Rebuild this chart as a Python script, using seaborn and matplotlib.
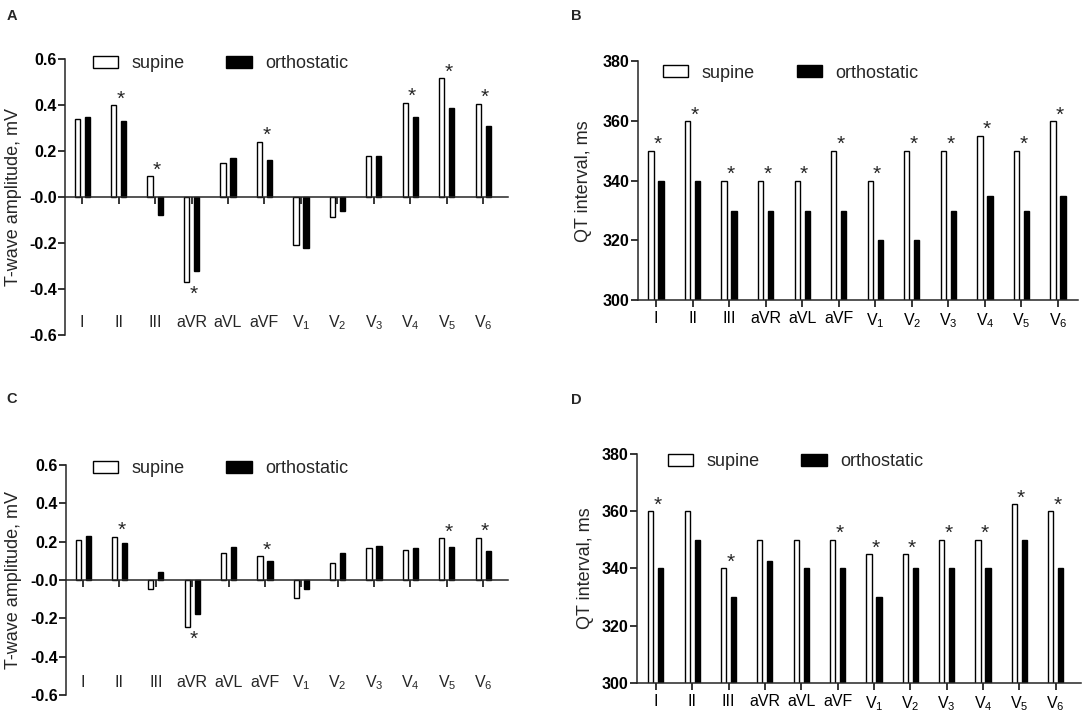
import pandas as pd
import seaborn as sns
import matplotlib.pyplot as plt

sns.set_style('ticks')
plt.rcParams['font.family'] = ['Liberation Sans', 'DejaVu Sans']
plt.rcParams['axes.linewidth'] = 1.1

# leads on the x axis
LEADS = ['I', 'II', 'III', 'aVR', 'aVL', 'aVF', 'V1', 'V2', 'V3', 'V4', 'V5', 'V6']
LEAD_LABELS = ['I', 'II', 'III', 'aVR', 'aVL', 'aVF',
               r'$\mathregular{V_1}$', r'$\mathregular{V_2}$', r'$\mathregular{V_3}$',
               r'$\mathregular{V_4}$', r'$\mathregular{V_5}$', r'$\mathregular{V_6}$']
CONDITIONS = ['supine', 'orthostatic']

# panel A - T-wave amplitude, mV
A_SUPINE = [0.34, 0.40, 0.09, -0.37, 0.15, 0.24, -0.21, -0.088, 0.178, 0.41, 0.516, 0.407]
A_ORTHO = [0.35, 0.33, -0.078, -0.32, 0.17, 0.16, -0.222, -0.06, 0.181, 0.35, 0.388, 0.31]
A_STARS = ['II', 'III', 'aVR', 'aVF', 'V4', 'V5', 'V6']

# panel B - QT interval, ms
B_SUPINE = [350, 360, 340, 340, 340, 350, 340, 350, 350, 355, 350, 360]
B_ORTHO = [340, 340, 330, 330, 330, 330, 320, 320, 330, 335, 330, 335]
B_STARS = ['I', 'II', 'III', 'aVR', 'aVL', 'aVF', 'V1', 'V2', 'V3', 'V4', 'V5', 'V6']

# panel C - T-wave amplitude, mV
C_SUPINE = [0.209, 0.226, -0.049, -0.244, 0.139, 0.125, -0.092, 0.09, 0.169, 0.155, 0.218, 0.221]
C_ORTHO = [0.231, 0.195, 0.042, -0.178, 0.171, 0.101, -0.049, 0.139, 0.179, 0.166, 0.171, 0.15]
C_STARS = ['II', 'aVR', 'aVF', 'V5', 'V6']

# panel D - QT interval, ms
D_SUPINE = [360, 360, 340, 350, 350, 350, 345, 345, 350, 350, 362.5, 360]
D_ORTHO = [340, 350, 330, 342.5, 340, 340, 330, 340, 340, 340, 350, 340]
D_STARS = ['I', 'III', 'aVF', 'V1', 'V2', 'V3', 'V4', 'V5', 'V6']

AMP_TICKS = [-0.6, -0.4, -0.2, 0.0, 0.2, 0.4, 0.6]
AMP_TICK_LABELS = ['-0.6', '-0.4', '-0.2', '-0.0', '0.2', '0.4', '0.6']
QT_TICKS = [300, 320, 340, 360, 380]
QT_TICK_LABELS = ['300', '320', '340', '360', '380']

PALETTE = {'supine': 'white', 'orthostatic': 'black'}


def make_frame(supine, ortho):
    return pd.DataFrame({
        'lead': LEADS * 2,
        'condition': ['supine'] * len(LEADS) + ['orthostatic'] * len(LEADS),
        'value': list(supine) + list(ortho),
    })


def draw_panel(ax, supine, ortho, stars, ylabel, yticks, yticklabels, ylim, xlim,
               legend_pos, zero_axis=False, label_y=None):
    df = make_frame(supine, ortho)
    sns.barplot(data=df, x='lead', y='value', hue='condition', order=LEADS,
                hue_order=CONDITIONS, palette=PALETTE, edgecolor='black',
                linewidth=1, width=0.55, gap=0.48, errorbar=None, legend=False, ax=ax)

    ax.set_xlim(*xlim)
    ax.set_ylim(*ylim)
    ax.set_yticks(yticks, yticklabels, fontweight='bold', fontsize=11.5)
    ax.set_ylabel(ylabel, fontsize=13)
    ax.set_xlabel('')
    ax.spines['top'].set_visible(False)
    ax.spines['right'].set_visible(False)
    ax.tick_params(axis='both', direction='out', length=5, width=1.1, colors='black')
    ax.tick_params(axis='y', pad=1)

    if zero_axis:
        # x axis drawn through zero, lead names at the bottom
        ax.spines['bottom'].set_position(('data', 0))
        ax.set_xticks(range(len(LEADS)), [''] * len(LEADS))
        for i, lab in enumerate(LEAD_LABELS):
            ax.text(i, label_y, lab, ha='center', va='center', fontsize=11.5)
    else:
        ax.set_xticks(range(len(LEADS)), LEAD_LABELS, fontsize=11.5)
        ax.tick_params(axis='x', pad=3)

    # significance stars
    for i, lead in enumerate(LEADS):
        if lead not in stars:
            continue
        hi = max(supine[i], ortho[i])
        if hi > 0:
            ax.annotate('*', (i + 0.05, hi), xytext=(0, 0.5), textcoords='offset points',
                        ha='center', va='baseline', fontsize=15)
        else:
            lo = min(supine[i], ortho[i])
            ax.annotate('*', (i + 0.05, lo), xytext=(0, -2), textcoords='offset points',
                        ha='center', va='top', fontsize=15)

    ax.legend(ax.containers[:2], CONDITIONS, ncol=2, loc='center left',
              bbox_to_anchor=legend_pos, frameon=False, fontsize=13,
              handlelength=1.4, handleheight=0.65, handletextpad=0.75,
              columnspacing=2.3, borderpad=0, borderaxespad=0)


fig = plt.figure(figsize=(10.84, 7.13), dpi=100)

ax_a = fig.add_axes([0.060, 0.530, 0.409, 0.387])
ax_b = fig.add_axes([0.5886, 0.579, 0.406, 0.335])
ax_c = fig.add_axes([0.0609, 0.0252, 0.408, 0.3226])
ax_d = fig.add_axes([0.5876, 0.0421, 0.4094, 0.3212])

draw_panel(ax_a, A_SUPINE, A_ORTHO, A_STARS, 'T-wave amplitude, mV', AMP_TICKS,
           AMP_TICK_LABELS, (-0.6, 0.6), (-0.47, 11.69), (0.063, 0.984),
           zero_axis=True, label_y=-0.545)
draw_panel(ax_b, B_SUPINE, B_ORTHO, B_STARS, 'QT interval, ms', QT_TICKS,
           QT_TICK_LABELS, (300, 380), (-0.49, 11.55), (0.057, 0.951))
draw_panel(ax_c, C_SUPINE, C_ORTHO, C_STARS, 'T-wave amplitude, mV', AMP_TICKS,
           AMP_TICK_LABELS, (-0.6, 0.6), (-0.47, 11.69), (0.061, 0.983),
           zero_axis=True, label_y=-0.533)
draw_panel(ax_d, D_SUPINE, D_ORTHO, D_STARS, 'QT interval, ms', QT_TICKS,
           QT_TICK_LABELS, (300, 380), (-0.52, 11.69), (0.070, 0.965))

# label coords give the right edge of the rotated y labels
ax_a.yaxis.set_label_coords(-0.098, 0.5)
ax_b.yaxis.set_label_coords(-0.105, 0.5)
ax_c.yaxis.set_label_coords(-0.100, 0.5)
ax_d.yaxis.set_label_coords(-0.097, 0.5)

# panel letters
for letter, x, y in [('A', 12, 16), ('B', 576, 16), ('C', 12, 399), ('D', 576, 400)]:
    fig.text(x / 1084, 1 - y / 713, letter, ha='center', va='center',
             fontsize=10.5, fontweight='bold')

fig.savefig('out.png', dpi=100)
